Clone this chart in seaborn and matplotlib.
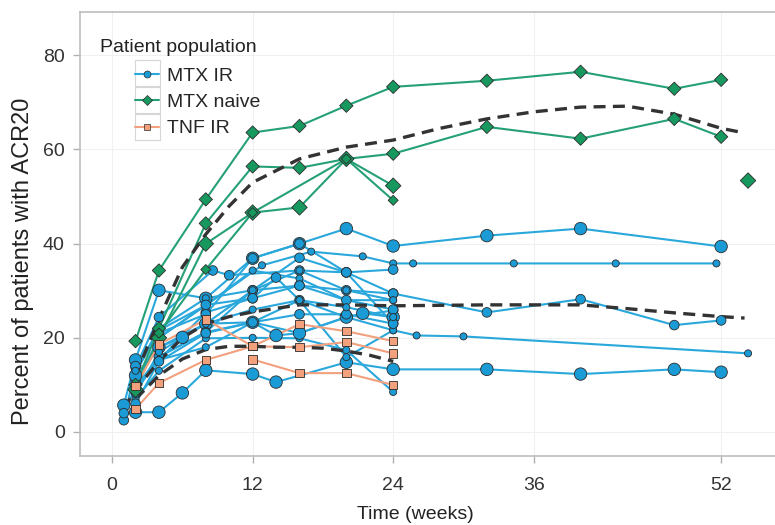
import numpy as np
import pandas as pd
import matplotlib
matplotlib.use("Agg")
import matplotlib.pyplot as plt
from matplotlib.lines import Line2D
from matplotlib.patches import Rectangle
import seaborn as sns

# ---------------- data ----------------
POPULATIONS = ["MTX IR", "MTX naive", "TNF IR"]

MTX_IR_WEEKS = [
    [1, 2, 4, 8, 12, 16, 20, 24, 32, 40, 52],
    [2, 4, 8, 12.8, 17, 21.4, 24, 25.7, 34.3, 43, 51.6],
    [2, 4, 8, 12, 16, 20, 24, 32, 40, 48, 52],
    [2, 4, 8, 12, 16, 20, 24, 26, 30, 54.3],
    [2, 4, 6, 8, 12, 14, 20, 24, 32, 40, 48, 52],
    [1, 2, 4, 8.6, 10, 16, 20, 24],
    [2, 4, 8, 12, 16, 20, 24],
    [2, 4, 8, 12, 14, 16, 20, 24],
    [2, 4, 8, 12, 16, 20, 24],
    [2, 4, 6, 8, 12, 14, 16, 20, 21.4, 24],
    [2, 4, 8, 12, 16, 20, 24],
    [4, 8, 12, 16, 20, 24],
    [2, 4, 8, 12, 16, 20, 24],
    [2, 4, 8, 12, 16, 20, 24],
    [1, 2, 4, 8, 12, 16, 20, 24],
    [2, 4, 8, 12, 16, 20, 24],
    [2, 4, 8, 12, 16, 20, 24],
]
MTX_IR_VALUES = [
    [5.7, 15.3, 30.1, 28.4, 36.9, 40.0, 43.2, 39.5, 41.7, 43.2, 39.4],
    [12.5, 21.6, 26.9, 35.4, 38.3, 37.3, 35.8, 35.8, 35.8, 35.8, 35.8],
    [11.0, 18.0, 23.0, 30.1, 31.1, 30.1, 29.4, 25.4, 28.2, 22.7, 23.7],
    [9.5, 16.0, 21.2, 23.3, 21.0, 24.4, 21.6, 20.5, 20.3, 16.7],
    [4.2, 4.2, 8.3, 13.1, 12.3, 10.6, 14.8, 13.3, 13.3, 12.3, 13.3, 12.7],
    [2.5, 13.8, 24.4, 34.3, 33.3, 34.3, 33.9, 34.5],
    [10.0, 20.0, 26.9, 34.3, 32.6, 28.0, 28.0],
    [9.0, 15.3, 25.4, 28.4, 32.8, 28.0, 24.4, 25.8],
    [7.0, 13.0, 19.9, 20.0, 19.9, 17.4, 8.5],
    [12.0, 18.0, 20.1, 23.0, 23.3, 20.5, 21.0, 24.4, 25.2, 24.4],
    [8.5, 16.0, 21.2, 30.1, 37.0, 33.9, 23.0],
    [15.3, 18.0, 23.3, 28.0, 15.9, 21.6],
    [14.0, 21.0, 25.0, 36.9, 40.0, 33.9, 29.4],
    [13.0, 22.0, 28.4, 30.1, 34.3, 30.1, 28.0],
    [4.0, 9.5, 20.0, 27.0, 28.4, 31.1, 28.0, 26.0],
    [6.0, 15.0, 21.0, 23.3, 25.0, 25.0, 23.0],
    [8.0, 17.0, 23.0, 26.0, 28.0, 26.5, 24.4],
]
MTX_IR_SIZES = ["L", "S", "M", "S", "L", "M", "S", "M", "S", "L", "M", "S", "M",
                "S", "M", "M", "S"]

MTX_NAIVE_WEEKS = [
    [2, 4, 8, 12, 16, 20, 24, 32, 40, 48, 52],
    [2, 4, 8, 12, 16, 20, 24, 32, 40, 48, 52],
    [2, 4, 8, 12, 16, 20, 24],
    [4, 8, 12, 20, 24],
    [54.3],
]
MTX_NAIVE_VALUES = [
    [19.3, 34.3, 49.4, 63.6, 65.0, 69.3, 73.3, 74.6, 76.5, 72.9, 74.8],
    [10.0, 22.0, 44.3, 56.4, 56.1, 58.0, 59.1, 64.8, 62.3, 66.5, 62.7],
    [9.0, 20.0, 40.0, 46.6, 47.7, 58.0, 52.3],
    [21.0, 34.5, 46.6, 58.0, 49.2],
    [53.4],
]
MTX_NAIVE_SIZES = ["DM", "DM", "DL", "DS", "DL"]

TNF_IR_WEEKS = [
    [2, 4, 8, 12, 16, 20, 24],
    [2, 4, 8, 12, 16, 20, 24],
    [12, 16, 20, 24],
]
TNF_IR_VALUES = [
    [9.7, 18.6, 23.9, 18.2, 22.9, 21.4, 19.3],
    [4.9, 10.4, 15.3, 18.2, 18.0, 19.1, 16.7],
    [15.4, 12.5, 12.5, 10.0],
]
TNF_IR_SIZES = ["SQ", "SQ", "SQ"]

# model trend curves (dashed)
TREND_NAIVE_WEEKS = [2, 4, 6, 8, 10, 12, 16, 20, 24, 28, 32, 36, 40, 44, 48, 50, 52, 54]
TREND_NAIVE_VALUES = [12, 24, 35, 42, 48, 53, 58, 60.5, 62, 64.5, 66.5, 68, 69, 69.2, 67.5, 66, 64.5, 63.5]
TREND_IR_WEEKS = [1, 2, 4, 6, 8, 10, 12, 16, 20, 24, 28, 32, 36, 40, 44, 48, 52, 54]
TREND_IR_VALUES = [5, 9, 15, 20, 23, 24.5, 25.5, 27, 27, 26.8, 26.9, 27, 27, 27, 26.2, 25.3, 24.5, 24.2]
TREND_TNF_WEEKS = [2, 4, 6, 8, 10, 12, 14, 16, 18, 20, 22, 24]
TREND_TNF_VALUES = [7, 12, 15.5, 17.5, 18.2, 18.2, 18, 18, 17.8, 17.2, 16.3, 15]

X_TICKS = [0, 12, 24, 36, 52]
Y_TICKS = [0, 20, 40, 60, 80]

# ---------------- build tables ----------------
rows = []
for pop, W, V, S in [("MTX IR", MTX_IR_WEEKS, MTX_IR_VALUES, MTX_IR_SIZES),
                     ("MTX naive", MTX_NAIVE_WEEKS, MTX_NAIVE_VALUES, MTX_NAIVE_SIZES),
                     ("TNF IR", TNF_IR_WEEKS, TNF_IR_VALUES, TNF_IR_SIZES)]:
    for i, (w, v, s) in enumerate(zip(W, V, S)):
        for wk, val in zip(w, v):
            rows.append({"population": pop, "study": f"{pop}-{i}", "week": wk,
                         "value": val, "size": s})
df = pd.DataFrame(rows)

# ---------------- styling ----------------
sns.set_theme(style="white")
plt.rcParams["font.family"] = ["Liberation Sans", "DejaVu Sans"]

LINE_COLORS = {"MTX IR": "#2aa8dc", "MTX naive": "#25a077", "TNF IR": "#f2a07e"}
FILL_COLORS = {"MTX IR": "#1b9bd6", "MTX naive": "#17985f", "TNF IR": "#f3a07c"}
MARKERS = {"MTX IR": "o", "MTX naive": "D", "TNF IR": "s"}
SIZES = {"L": 80, "M": 48, "S": 26, "DL": 62, "DM": 46, "DS": 26, "SQ": 36}

fig = plt.figure(figsize=(7.75, 5.25), dpi=100)
ax = fig.add_axes([80 / 775, (525 - 456) / 525, 695 / 775, 444 / 525])

# study lines
sns.lineplot(data=df, x="week", y="value", hue="population", units="study",
             estimator=None, palette=LINE_COLORS, linewidth=1.5, legend=False,
             ax=ax, zorder=2)

# trend curves
for wk, val in [(TREND_NAIVE_WEEKS, TREND_NAIVE_VALUES),
                (TREND_IR_WEEKS, TREND_IR_VALUES),
                (TREND_TNF_WEEKS, TREND_TNF_VALUES)]:
    n0 = len(ax.lines)
    sns.lineplot(x=wk, y=val, color="#333333", linewidth=2.4, ax=ax, zorder=3)
    for ln in ax.lines[n0:]:
        ln.set_dashes((3.6, 2.2))

# markers
sns.scatterplot(data=df, x="week", y="value", hue="population", style="population",
                markers=MARKERS, palette=FILL_COLORS, size="size", sizes=SIZES,
                edgecolor="#2b2b2b", linewidth=0.6, legend=False, ax=ax, zorder=4)

# axes
ax.set_xlim(-2.74, 56.6)
ax.set_ylim(-5.1, 89.2)
ax.set_xticks(X_TICKS)
ax.set_yticks(Y_TICKS)
ax.grid(True, color="#f0f0f0", linewidth=0.8)
ax.set_axisbelow(True)
for side in ["left", "bottom", "top"]:
    ax.spines[side].set_color("#bdbdbd")
    ax.spines[side].set_linewidth(1.2)
ax.spines["right"].set_visible(False)
ax.tick_params(axis="both", colors="#b0b0b0", length=5, width=1, direction="out",
               labelsize=14, labelcolor="#333333", pad=6,
               left=True, bottom=True)
ax.tick_params(axis="x", pad=10)
ax.set_xlabel("Time (weeks)", fontsize=14, color="#222222")
ax.set_ylabel("Percent of patients with ACR20", fontsize=17, color="#222222")
ax.xaxis.set_label_coords(0.483, -0.112)
ax.yaxis.set_label_coords(-0.066, 0.439)

# legend
handles = [Line2D([0], [0], color=LINE_COLORS[p], linewidth=1.5, marker=MARKERS[p],
                  markersize=5, markerfacecolor=FILL_COLORS[p], markeredgecolor="#2b2b2b",
                  markeredgewidth=0.5) for p in POPULATIONS]
ax.legend(handles, POPULATIONS, loc="upper left", bbox_to_anchor=(0.079, 0.876),
          frameon=False, fontsize=14, handlelength=1.25, handletextpad=0.4,
          labelspacing=0.45, borderpad=0, borderaxespad=0)
ax.text(0.029, 0.921, "Patient population", transform=ax.transAxes, fontsize=14,
        color="#222222", va="center", ha="left")
key_x, key_w = (135 - 80) / 695, 25 / 695
for top_px in [60, 87, 114]:
    y0 = (456 - top_px - 26) / 444
    ax.add_patch(Rectangle((key_x, y0), key_w, 26 / 444, transform=ax.transAxes,
                           fill=False, edgecolor="#d6d6d6", linewidth=0.8, zorder=5))

fig.savefig("out.png", dpi=100)
